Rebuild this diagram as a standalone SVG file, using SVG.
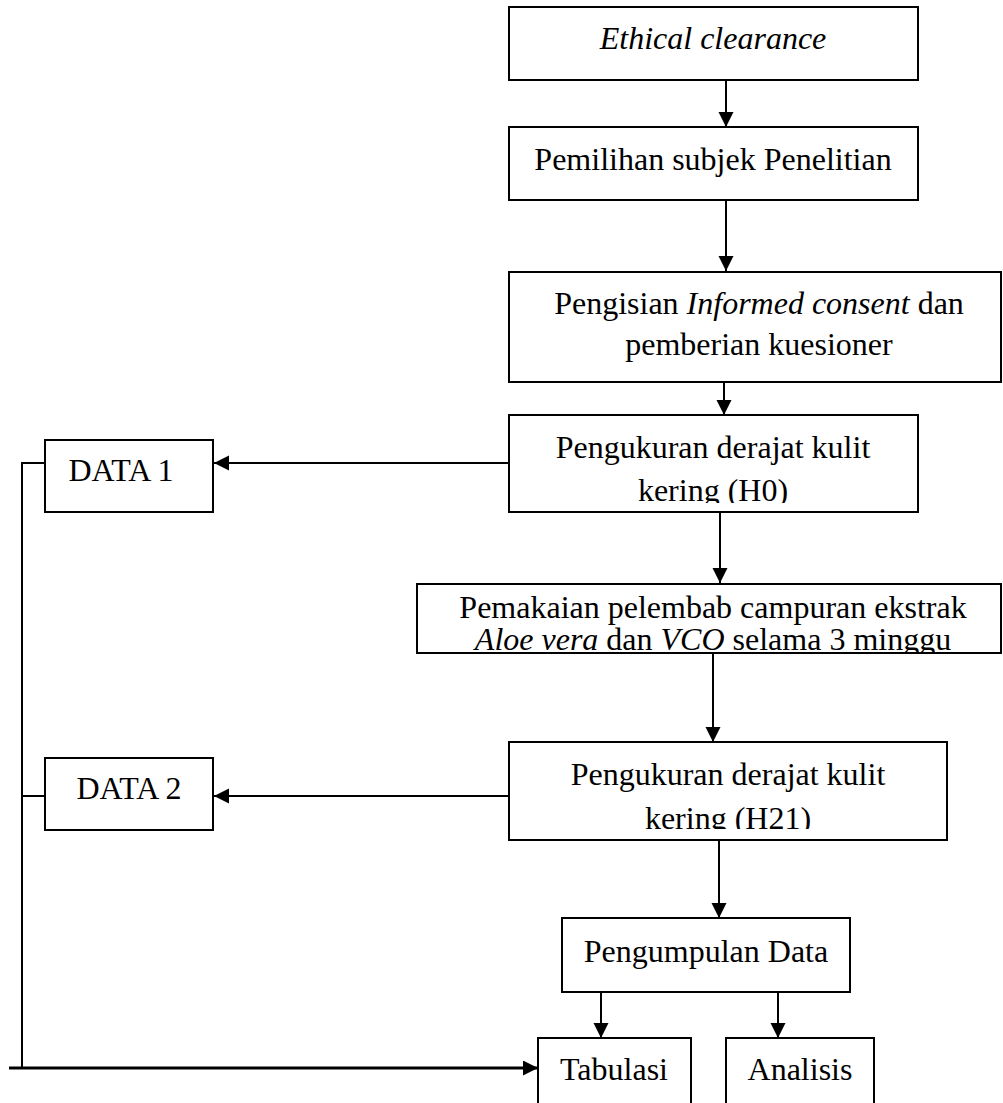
<svg xmlns="http://www.w3.org/2000/svg" width="1003" height="1103" viewBox="0 0 1003 1103">
<style>
.box{fill:#fff;stroke:#000;stroke-width:2}
.t{font-family:"Liberation Serif","Times New Roman",serif;font-size:32px;fill:#000;text-anchor:middle}
.i{font-style:italic}
.c{fill:none;stroke:#000;stroke-width:2}
</style>
<defs>
<marker id="ah" markerUnits="userSpaceOnUse" markerWidth="16" markerHeight="16" refX="15" refY="7.5" orient="auto">
<path d="M0,0 L15,7.5 L0,15 z" fill="#000"/>
</marker>
<clipPath id="clipH0"><rect x="500" y="410" width="440" height="93"/></clipPath>
<clipPath id="clipH21"><rect x="500" y="740" width="460" height="89"/></clipPath>
<clipPath id="clipP"><rect x="400" y="580" width="603" height="73"/></clipPath>
</defs>
<rect width="1003" height="1103" fill="#fff"/>
<g id="connectors">
<line class="c" x1="726" y1="80" x2="726" y2="127" marker-end="url(#ah)"/>
<line class="c" x1="726" y1="200" x2="726" y2="271" marker-end="url(#ah)"/>
<line class="c" x1="724" y1="382" x2="724" y2="415" marker-end="url(#ah)"/>
<line class="c" x1="720" y1="512" x2="720" y2="583" marker-end="url(#ah)"/>
<line class="c" x1="713" y1="653" x2="713" y2="742" marker-end="url(#ah)"/>
<line class="c" x1="719" y1="840" x2="719" y2="918" marker-end="url(#ah)"/>
<line class="c" x1="601" y1="992" x2="601" y2="1038" marker-end="url(#ah)"/>
<line class="c" x1="778" y1="992" x2="778" y2="1038" marker-end="url(#ah)"/>
<line class="c" x1="509" y1="463" x2="214" y2="463" marker-end="url(#ah)"/>
<line class="c" x1="509" y1="796" x2="214" y2="796" marker-end="url(#ah)"/>
<polyline class="c" points="45,463 22,463 22,1068"/>
<line class="c" x1="22" y1="796" x2="45" y2="796"/>
<line class="c" style="stroke-width:3" x1="9" y1="1068" x2="538" y2="1068" marker-end="url(#ah)"/>
</g>
<g id="n1"><rect class="box" x="509" y="7" width="409" height="73"/><text class="t i" x="713" y="49">Ethical clearance</text></g>
<g id="n2"><rect class="box" x="509" y="127" width="409" height="73"/><text class="t" x="713" y="170">Pemilihan subjek Penelitian</text></g>
<g id="n3"><rect class="box" x="509" y="272" width="492" height="110"/><text class="t" x="759" y="314">Pengisian <tspan class="i">Informed consent</tspan> dan</text><text class="t" x="759" y="355">pemberian kuesioner</text></g>
<g id="n4"><rect class="box" x="509" y="415" width="409" height="97"/><g clip-path="url(#clipH0)"><text class="t" x="713" y="458">Pengukuran derajat kulit</text><text class="t" x="713" y="501">kering (H0)</text></g></g>
<g id="n5"><rect class="box" x="417" y="584" width="584" height="69"/><g clip-path="url(#clipP)"><text class="t" x="713" y="618">Pemakaian pelembab campuran ekstrak</text><text class="t" x="713" y="650"><tspan class="i">Aloe vera</tspan> dan <tspan class="i">VCO</tspan> selama 3 minggu</text></g></g>
<g id="n6"><rect class="box" x="509" y="742" width="438" height="98"/><g clip-path="url(#clipH21)"><text class="t" x="728" y="785">Pengukuran derajat kulit</text><text class="t" x="728" y="829">kering (H21)</text></g></g>
<g id="n7"><rect class="box" x="562" y="918" width="288" height="74"/><text class="t" x="706" y="962">Pengumpulan Data</text></g>
<g id="n8"><rect class="box" x="538" y="1038" width="153" height="80"/><text class="t" x="614" y="1080">Tabulasi</text></g>
<g id="n9"><rect class="box" x="726" y="1038" width="148" height="80"/><text class="t" x="800" y="1080">Analisis</text></g>
<g id="d1"><rect class="box" x="45" y="440" width="168" height="72"/><text class="t" x="121" y="481">DATA 1</text></g>
<g id="d2"><rect class="box" x="45" y="758" width="168" height="72"/><text class="t" x="129" y="799">DATA 2</text></g>
</svg>
